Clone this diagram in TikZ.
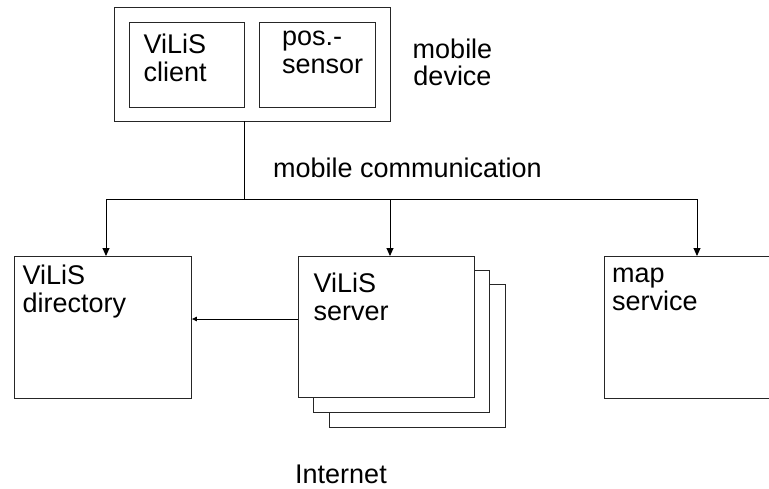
\documentclass[tikz,border=0pt]{standalone}
\usepackage{fontspec}
\setmainfont{Liberation Sans}
\usetikzlibrary{arrows.meta}
\begin{document}
\begin{tikzpicture}[x=1pt,y=-1pt,
  box/.style={draw=black!85,line width=0.9pt,fill=white},
  lbl/.style={inner sep=0pt,align=left,anchor=north west,font=\fontsize{27}{27.5}\selectfont,execute at begin node=\strut},
  conn/.style={draw=black,line width=0.9pt},
  arr/.style={conn,-{Triangle[length=8pt,width=7pt]}},
  sarr/.style={conn,-{Triangle[length=5pt,width=4.5pt]}}]
\useasboundingbox (0,0) rectangle (769,488);
% mobile device
\draw[box] (114,7) rectangle (390,121);
\coordinate (devS) at (244,121);
\node[box,minimum width=115pt,minimum height=85pt,anchor=north west,inner sep=0pt] (client) at (129,22) {};
\node[box,minimum width=116pt,minimum height=85pt,anchor=north west,inner sep=0pt] (sensor) at (259,22) {};
\node[lbl] (clientT) at (143.5,33.8) {ViLiS\\client};
\node[lbl] (sensorT) at (282,30.8) {pos.-\\sensor};
\node[lbl,align=center,anchor=north] (devT) at (452.5,38.3) {mobile\\device};
% bus
\coordinate (bus) at (244,199);
\node[lbl,anchor=base west,execute at begin node=] (commT) at (273,177) {mobile communication};
% lower boxes
\node[box,minimum width=177pt,minimum height=142pt,anchor=north west,inner sep=0pt] (dir) at (14,256) {};
\node[box,minimum width=176pt,minimum height=143pt,anchor=north west,inner sep=0pt] (srv3) at (329,284) {};
\node[box,minimum width=176pt,minimum height=142pt,anchor=north west,inner sep=0pt] (srv2) at (313,270) {};
\node[box,minimum width=176pt,minimum height=141pt,anchor=north west,inner sep=0pt] (srv) at (298,256) {};
\node[minimum width=220pt,minimum height=142pt,anchor=north west,inner sep=0pt] (map) at (604,256) {};
\draw[box,fill=none] (map.north east) -- (map.north west) -- (map.south west) -- (map.south east);
\node[lbl] (dirT) at (22.5,264.8) {ViLiS\\directory};
\node[lbl] (srvT) at (313.5,272.8) {ViLiS\\server};
\node[lbl] (mapT) at (612,267.8) {map\\service};
\node[lbl,anchor=base west,execute at begin node=] (netT) at (295,483) {Internet};
% connectors
\coordinate (dirIn) at (106,256);
\coordinate (srvIn) at (390,256);
\coordinate (mapIn) at (697,256);
\draw[conn] (devS) -- (bus);
\draw[arr] (bus) -| (dirIn);
\draw[arr] (bus) -| (srvIn);
\draw[arr] (bus) -| (mapIn);
\draw[sarr] (srv.west |- 0,319) -- (dir.east |- 0,319);
\end{tikzpicture}
\end{document}
